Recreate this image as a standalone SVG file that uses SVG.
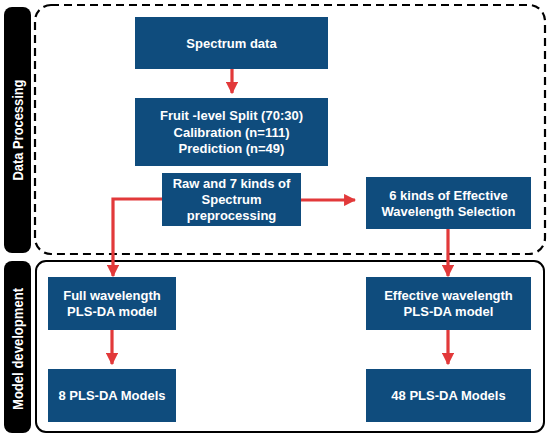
<svg xmlns="http://www.w3.org/2000/svg" width="550" height="438" viewBox="0 0 550 438">
<defs>
<style>
.box{fill:#0f4c7d;}
.t{font-family:"Liberation Sans",Arial,sans-serif;font-weight:bold;font-size:13px;fill:#fff;text-anchor:middle;}
.lab{font-family:"Liberation Sans",Arial,sans-serif;font-weight:bold;font-size:14px;fill:#fff;text-anchor:middle;}
.c{fill:none;stroke:#e2393a;stroke-width:3.2;}
</style>
<marker id="ah" viewBox="0 0 10 10" refX="9" refY="5" markerWidth="3.8" markerHeight="3.8" markerUnits="strokeWidth" orient="auto">
<path d="M0,0 L10,5 L0,10 Z" fill="#e2393a"/>
</marker>
</defs>
<rect width="550" height="438" fill="#fff"/>
<g id="frames">
<rect x="35" y="5" width="510" height="249" rx="16" fill="none" stroke="#000" stroke-width="2.2" stroke-dasharray="8,5"/>
<rect x="36" y="261" width="508" height="171" rx="10" fill="none" stroke="#000" stroke-width="2"/>
</g>
<g id="label-data-processing">
<rect x="4" y="7" width="27" height="246" rx="8" fill="#000"/>
<text class="lab" transform="translate(22.5,130) rotate(-90)" textLength="101" lengthAdjust="spacingAndGlyphs">Data Processing</text>
</g>
<g id="label-model-development">
<rect x="4" y="261" width="27" height="172" rx="8" fill="#000"/>
<text class="lab" transform="translate(22.5,349) rotate(-90)" textLength="122" lengthAdjust="spacingAndGlyphs">Model development</text>
</g>
<g id="connectors">
<line class="c" x1="232" y1="69" x2="232" y2="93" marker-end="url(#ah)"/>
<line class="c" x1="301" y1="200" x2="355" y2="200" marker-end="url(#ah)"/>
<polyline class="c" points="162,199 113,199 113,276" marker-end="url(#ah)"/>
<line class="c" x1="448" y1="229" x2="448" y2="276" marker-end="url(#ah)"/>
<line class="c" x1="112" y1="330" x2="112" y2="364" marker-end="url(#ah)"/>
<line class="c" x1="448" y1="330" x2="448" y2="364" marker-end="url(#ah)"/>
</g>
<g id="spectrum-data">
<rect class="box" x="135" y="17" width="193" height="52"/>
<text class="t" x="231.5" y="47.5">Spectrum data</text>
</g>
<g id="split">
<rect class="box" x="135" y="98" width="193" height="68"/>
<text class="t" x="231.5" y="120">Fruit -level Split (70:30)</text>
<text class="t" x="231.5" y="137">Calibration (n=111)</text>
<text class="t" x="231.5" y="153">Prediction (n=49)</text>
</g>
<g id="preprocessing">
<rect class="box" x="162" y="173" width="139" height="53"/>
<text class="t" x="231.5" y="188">Raw and 7 kinds of</text>
<text class="t" x="231.5" y="204">Spectrum</text>
<text class="t" x="231.5" y="220">preprocessing</text>
</g>
<g id="wavelength-selection">
<rect class="box" x="366" y="177" width="165" height="52"/>
<text class="t" x="448.5" y="200">6 kinds of Effective</text>
<text class="t" x="448.5" y="216">Wavelength Selection</text>
</g>
<g id="full-model">
<rect class="box" x="48" y="277" width="128" height="53"/>
<text class="t" x="112" y="300">Full wavelength</text>
<text class="t" x="112" y="316">PLS-DA model</text>
</g>
<g id="effective-model">
<rect class="box" x="366" y="277" width="165" height="53"/>
<text class="t" x="448.5" y="300">Effective wavelength</text>
<text class="t" x="448.5" y="316">PLS-DA model</text>
</g>
<g id="eight-models">
<rect class="box" x="48" y="369" width="128" height="53"/>
<text class="t" x="112" y="400">8 PLS-DA Models</text>
</g>
<g id="fortyeight-models">
<rect class="box" x="366" y="369" width="165" height="53"/>
<text class="t" x="448.5" y="400">48 PLS-DA Models</text>
</g>
</svg>
